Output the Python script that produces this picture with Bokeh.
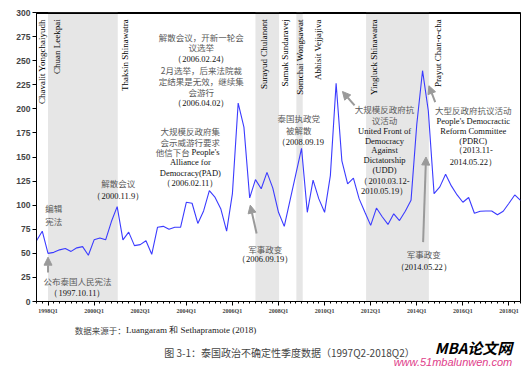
import math
from bokeh.plotting import figure
from bokeh.models import Range1d, FixedTicker, Arrow, NormalHead, Span
from bokeh.layouts import column
from bokeh.core.properties import value
from bokeh.embed import file_html
from bokeh.resources import INLINE

# ---------------- data ----------------
# quarterly political uncertainty index, 1997Q2 - 2018Q2 (85 quarters)
uncertainty = [63, 73, 50, 51, 53.6, 55, 52, 55.7, 57, 48,
               64, 66, 64, 83, 98.5, 64, 72, 58, 59, 63,
               49, 77, 78, 75, 77, 77, 103, 102, 81, 94,
               115, 108, 96, 73, 112, 206, 181, 107.5, 126.5, 117,
               134, 118, 92.6, 78, 105, 132, 159, 92.6, 126, 106.5,
               92.6, 130.7, 226.5, 146, 122, 128, 106.5, 92.6, 79, 97,
               88, 80, 91, 84, 93.7, 105, 184, 239.6, 198, 112,
               119, 132, 120, 110.6, 103, 108, 91.6, 93.7, 94, 94,
               90, 93.7, 102, 110.6, 105]
quarter_idx = list(range(len(uncertainty)))

tick_labels = ["1998Q1", "2000Q1", "2002Q1", "2004Q1", "2006Q1", "2008Q1",
               "2010Q1", "2012Q1", "2014Q1", "2016Q1", "2018Q1"]
y_ticks = [0, 25, 50, 75, 100, 125, 150, 175, 200, 225, 250, 275, 300]

# shaded prime-minister terms (in quarter index units)
shade_start = [2.0, 38.0, 45.1, 57.2]
shade_end = [14.1, 42.1, 46.2, 68.1]

pm_names = ["Chavalit Yongchaiyudh", "Chuan Leekpai", "Thaksin Shinawatra",
            "Surayud Chulanont", "Samak Sundaravej", "Somchai Wongsawat",
            "Abhisit Vejjajiva", "Yingluck Shinawatra", "Prayut Chan-o-cha"]
pm_pos = [1.0, 3.6, 15.3, 39.4, 43.2, 45.8, 48.8, 58.5, 69.6]

# annotations: (x, y, text, kind)  kind: cn = grey chinese, en = black latin
annotations = [
    (3.0, 97.5, "编辑", "cn"), (3.0, 84, "宪法", "cn"),
    (7.1, 21, "公布泰国人民宪法", "cn"), (7.1, 9.3, "（1997.10.11）", "en"),
    (14.2, 122.5, "解散会议", "cn"), (14.2, 110, "（2000.11.9）", "en"),
    (26.7, 177.5, "大规模反政府集", "cn"), (26.7, 166, "会示威游行要求", "cn"),
    (26.7, 144.3, "Alliance for", "en"), (26.7, 132.9, "Democracy(PAD)", "en"),
    (26.7, 122.5, "（2006.02.11）", "en"),
    (28.6, 275, "解散会议，开新一轮会", "cn"), (28.6, 264, "议选举", "cn"),
    (28.6, 252, "（2006.02.24）", "en"),
    (28.6, 240, "2月选举，后来法院裁", "cn"), (28.6, 228.4, "定结果是无效，继续集", "cn"),
    (28.6, 217.7, "会游行", "cn"), (28.6, 205.9, "（2006.04.02）", "en"),
    (39.7, 55, "军事政变", "cn"), (39.7, 43.6, "（2006.09.19）", "en"),
    (45.5, 190, "泰国执政党", "cn"), (45.5, 178.5, "被解散", "cn"),
    (45.8, 166, "（2008.09.19", "en"),
    (60.4, 200, "大规模反政府抗", "cn"), (60.4, 188.6, "议活动", "cn"),
    (60.4, 177.5, "United Front of", "en"), (60.4, 167.1, "Democracy", "en"),
    (60.4, 156.8, "Against", "en"), (60.4, 147.1, "Dictatorship", "en"),
    (60.4, 136.7, "(UDD)", "en"), (60.4, 125.6, "（2010.03.12-", "en"),
    (60.4, 114.2, "2010.05.19）", "en"),
    (75.8, 198.9, "大型反政府抗议活动", "cn"), (75.8, 187.2, "People's Democractic", "en"),
    (75.8, 177.5, "Reform Committee", "en"), (75.8, 167.1, "(PDRC)", "en"),
    (75.8, 156.8, "（2013.11-", "en"), (75.8, 145.3, "2014.05.22）", "en"),
    (67.2, 49.8, "军事政变", "cn"), (67.2, 36.3, "（2014.05.22）", "en"),
]
# (x_start, y_start, x_end, y_end)
arrows = [
    (2.0, 30, 2.0, 46),
    (38.2, 70.6, 37.1, 100),
    (55.2, 203.5, 53.1, 218),
    (69.2, 207, 68.1, 224),
    (67.1, 61.6, 67.6, 150),
]

GREY_TXT = "#5a5a5a"
ARROW_C = "#9a9a9a"

# ---------------- main figure ----------------
p = figure(width=530, height=320, title=None, toolbar_location=None,
           output_backend="svg", x_range=Range1d(0, len(uncertainty) - 1),
           y_range=Range1d(0, 300), min_border_left=36, min_border_right=10,
           min_border_top=12, min_border_bottom=19)
p.grid.visible = False
p.outline_line_color = "black"
p.outline_line_width = 1

p.quad(left=shade_start, right=shade_end, bottom=0, top=300,
       fill_color="#e6e6e6", line_color=None)
p.line(quarter_idx, uncertainty, line_color="#3b3bff", line_width=1.1)
p.add_layout(Span(location=300, dimension="width", line_color="black", line_width=3))

# axes
p.yaxis.ticker = FixedTicker(ticks=y_ticks)
p.yaxis.major_label_text_font = "Liberation Sans"
p.yaxis.major_label_text_font_style = "bold"
p.yaxis.major_label_text_font_size = "8.5px"
p.yaxis.major_tick_out = 4
p.yaxis.major_tick_in = 0
p.yaxis.minor_tick_out = 0
p.yaxis.minor_tick_in = 0
p.yaxis.major_label_standoff = 2
p.yaxis.axis_line_color = "black"

tick_pos = [2 + 8 * i for i in range(len(tick_labels))]
p.xaxis.ticker = FixedTicker(ticks=tick_pos, minor_ticks=quarter_idx)
p.xaxis.major_label_overrides = {t: l for t, l in zip(tick_pos, tick_labels)}
p.xaxis.major_label_text_font = "Liberation Serif"
p.xaxis.major_label_text_font_style = "bold"
p.xaxis.major_label_text_font_size = "6px"
p.xaxis.major_tick_out = 4
p.xaxis.major_tick_in = 0
p.xaxis.minor_tick_out = 2
p.xaxis.minor_tick_in = 0
p.xaxis.major_label_standoff = 2
p.xaxis.axis_line_color = "black"

# prime minister names (vertical)
p.text(x=pm_pos, y=[293] * len(pm_pos), text=pm_names, angle=math.pi / 2,
       text_align="right", text_baseline="middle",
       text_font=value("Liberation Serif"), text_font_size="9px", text_color="black")

# annotations
cn = [a for a in annotations if a[3] == "cn"]
en = [a for a in annotations if a[3] == "en"]
p.text(x=[a[0] for a in cn], y=[a[1] for a in cn], text=[a[2] for a in cn],
       text_align="center", text_baseline="middle",
       text_font=value("Noto Sans CJK SC"), text_font_size="8.5px", text_color=GREY_TXT)
p.text(x=[a[0] for a in en], y=[a[1] for a in en], text=[a[2] for a in en],
       text_align="center", text_baseline="middle",
       text_font=value("Liberation Serif"), text_font_size="8.5px", text_color="#111111")
# mixed line "他信下台 People's"
p.text(x=[26.6], y=[155.7], text=["他信下台"], text_align="right", text_baseline="middle",
       text_font=value("Noto Sans CJK SC"), text_font_size="8.5px", text_color=GREY_TXT)
p.text(x=[26.9], y=[155.7], text=["People's"], text_align="left", text_baseline="middle",
       text_font=value("Liberation Serif"), text_font_size="8.5px", text_color="#111111")

for xs, ys, xe, ye in arrows:
    p.add_layout(Arrow(end=NormalHead(size=8, fill_color=ARROW_C, line_color=ARROW_C),
                       x_start=xs, y_start=ys, x_end=xe, y_end=ye,
                       line_color=ARROW_C, line_width=2))

# ---------------- caption figure ----------------
c = figure(width=530, height=48, title=None, toolbar_location=None,
           output_backend="svg", x_range=Range1d(0, 530), y_range=Range1d(48, 0),
           x_axis_type=None, y_axis_type=None, min_border=0)
c.grid.visible = False
c.outline_line_color = None

c.text(x=[42], y=[9], text=["数据来源于："], text_align="left", text_baseline="middle",
       text_font=value("Noto Sans CJK SC"), text_font_size="8.5px", text_color="#444444")
c.text(x=[98], y=[9], text=["Luangaram 和 Sethapramote (2018)"], text_align="left",
       text_baseline="middle", text_font=value("Liberation Serif"),
       text_font_size="9px", text_color="#222222")
c.text(x=[277], y=[32], text=["图 3-1：泰国政治不确定性季度数据（1997Q2-2018Q2）"],
       text_align="center", text_baseline="middle",
       text_font=value("Noto Sans CJK SC"), text_font_size="10px", text_color="#444444")
c.text(x=[521], y=[27], text=["MBA论文网"], text_align="right", text_baseline="middle",
       text_font=value("Noto Sans CJK SC"), text_font_size="15px",
       text_font_style="bold italic", text_color="black")
c.text(x=[521], y=[41], text=["www.51mbalunwen.com"], text_align="right",
       text_baseline="middle", text_font=value("Liberation Sans"),
       text_font_size="11px", text_font_style="italic", text_color="#e0408a")

layout = column(p, c)
open("out.html", "w").write(file_html(layout, INLINE))
